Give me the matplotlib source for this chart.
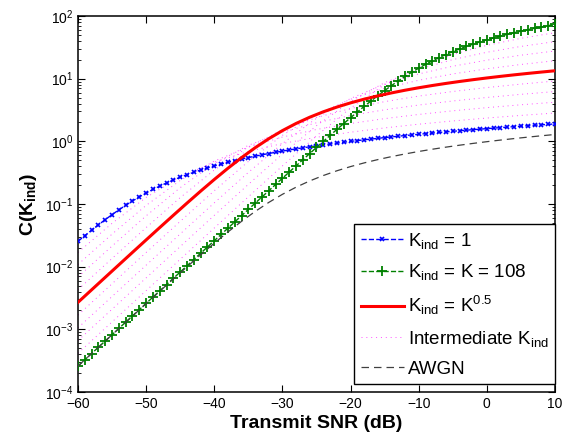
import numpy as np
import matplotlib
matplotlib.use("Agg")
import matplotlib.pyplot as plt


plt.rcParams['font.family'] = ['Liberation Sans', 'DejaVu Sans']
plt.rcParams['mathtext.fontset'] = 'custom'
plt.rcParams['mathtext.rm'] = 'Liberation Sans'
plt.rcParams['mathtext.it'] = 'Liberation Sans:italic'
plt.rcParams['mathtext.bf'] = 'Liberation Sans:bold'

# SNR grids (dB)
snr_fine = np.arange(-60, 11, 1)      # blue / green (markers every dB)
snr_mid = np.arange(-60, 11, 2)       # red / AWGN
snr_coarse = np.arange(-60, 11, 5)    # intermediate K_ind curves

# K_ind = 1
cap_k1 = [0.0254, 0.0312, 0.0382, 0.0465, 0.0563, 0.0676, 0.0806, 0.0953, 0.1117, 0.1298,
          0.1494, 0.1706, 0.1930, 0.2168, 0.2417, 0.2672, 0.2937, 0.3208, 0.3484, 0.3765,
          0.4048, 0.4335, 0.4624, 0.4917, 0.5210, 0.5504, 0.5799, 0.6095, 0.6391, 0.6688,
          0.6986, 0.7284, 0.7582, 0.7880, 0.8179, 0.8478, 0.8777, 0.9076, 0.9374, 0.9673,
          0.9972, 1.027, 1.057, 1.087, 1.117, 1.147, 1.177, 1.207, 1.236, 1.266,
          1.296, 1.326, 1.356, 1.386, 1.416, 1.446, 1.476, 1.506, 1.535, 1.565,
          1.595, 1.625, 1.655, 1.685, 1.715, 1.745, 1.775, 1.805, 1.834, 1.864, 1.894]

# K_ind = K = 108
cap_k108 = [2.597e-4, 3.269e-4, 4.116e-4, 5.182e-4, 6.523e-4, 8.212e-4, 1.034e-3, 1.302e-3, 1.639e-3, 2.063e-3,
            2.597e-3, 3.269e-3, 4.115e-3, 5.180e-3, 6.521e-3, 8.208e-3, 1.033e-2, 1.301e-2, 1.637e-2, 2.061e-2,
            2.595e-2, 3.266e-2, 4.110e-2, 5.172e-2, 6.508e-2, 8.188e-2, 0.1030, 0.1296, 0.1629, 0.2048,
            0.2573, 0.3232, 0.4057, 0.5088, 0.6376, 0.7981, 0.9975, 1.245, 1.550, 1.925,
            2.381, 2.939, 3.609, 4.410, 5.356, 6.465, 7.745, 9.207, 10.85, 12.69,
            14.70, 16.88, 19.21, 21.69, 24.29, 27.00, 29.80, 32.68, 35.62, 38.62,
            41.67, 44.75, 47.86, 50.99, 54.15, 57.31, 60.49, 63.68, 66.88, 70.09, 73.30]

# K_ind = K^0.5
cap_ksqrt = [0.002696, 0.004270, 0.006762, 0.01070, 0.01692, 0.02672, 0.04211, 0.06614, 0.1034, 0.1604,
             0.2460, 0.3715, 0.5493, 0.7903, 1.101, 1.482, 1.927, 2.423, 2.959, 3.524,
             4.108, 4.706, 5.312, 5.923, 6.539, 7.156, 7.775, 8.395, 9.015, 9.636,
             10.26, 10.88, 11.50, 12.12, 12.74, 13.36]

# AWGN
cap_awgn = [2.594e-4, 4.109e-4, 6.507e-4, 1.030e-3, 1.628e-3, 2.571e-3, 4.052e-3, 6.364e-3, 9.947e-3, 0.01543,
            0.02367, 0.03575, 0.05285, 0.07605, 0.1060, 0.1427, 0.1854, 0.2332, 0.2847, 0.3391,
            0.3953, 0.4528, 0.5111, 0.5700, 0.6292, 0.6886, 0.7481, 0.8078, 0.8675, 0.9272,
            0.9870, 1.047, 1.107, 1.166, 1.226, 1.286]

# intermediate K_ind = K^0.1 ... K^0.9 (without 0.5)
cap_int = [
    [0.01686, 0.04920, 0.1272, 0.2701, 0.4662, 0.6894, 0.9229, 1.160, 1.398, 1.637, 1.876, 2.114, 2.353, 2.592, 2.830],
    [0.01082, 0.03307, 0.09494, 0.2377, 0.4846, 0.8089, 1.170, 1.545, 1.924, 2.304, 2.685, 3.067, 3.448, 3.829, 4.211],
    [0.006840, 0.02133, 0.06472, 0.1823, 0.4409, 0.8634, 1.396, 1.979, 2.579, 3.185, 3.794, 4.402, 5.011, 5.620, 6.229],
    [0.004300, 0.01352, 0.04204, 0.1264, 0.3483, 0.8116, 1.528, 2.400, 3.338, 4.300, 5.269, 6.240, 7.213, 8.185, 9.158],
    [0.001689, 0.005337, 0.01683, 0.05278, 0.1627, 0.4773, 1.248, 2.687, 4.697, 7.004, 9.427, 11.89, 14.36, 16.84, 19.32],
    [0.001058, 0.003344, 0.01056, 0.03330, 0.1042, 0.3193, 0.9226, 2.337, 4.835, 8.165, 11.90, 15.79, 19.73, 23.68, 27.64],
    [0.0006626, 0.002095, 0.006622, 0.02091, 0.06586, 0.2056, 0.6256, 1.775, 4.347, 8.635, 14.12, 20.15, 26.38, 32.68, 39.00],
    [0.0004148, 0.001312, 0.004147, 0.01311, 0.04138, 0.1302, 0.4053, 1.222, 3.397, 8.023, 15.32, 24.31, 34.03, 44.02, 54.08],
]

# Plot
fig = plt.figure(figsize=(5.63, 4.38), dpi=100)
ax = fig.add_axes([0.1385, 0.105, 0.8473, 0.8585])

ax.semilogy(snr_fine, cap_k1, linestyle='--', color='#0000ff', lw=1.0,
            marker='x', markersize=3.5, markeredgewidth=1.2, label=r'K$_{\mathrm{ind}}$ = 1', zorder=3)
ax.semilogy(snr_fine, cap_k108, linestyle='--', color='#008000', lw=1.0,
            marker='+', markersize=7.5, markeredgewidth=1.3, label=r'K$_{\mathrm{ind}}$ = K = 108', zorder=4)
ax.semilogy(snr_mid, cap_ksqrt, linestyle='-', color='#ff0000', lw=2.2,
            label=r'K$_{\mathrm{ind}}$ = K$^{0.5}$', zorder=5)
for i, vals in enumerate(cap_int):
    ax.semilogy(snr_coarse, vals, linestyle=(0, (1, 4)), color='#ff00ff', lw=0.7, alpha=0.7,
                label='Intermediate K$_{\mathrm{ind}}$' if i == 0 else None, zorder=2)
ax.semilogy(snr_mid, cap_awgn, linestyle=(0, (6, 4)), color='#404040', lw=0.9,
            label='AWGN', zorder=6)

ax.set_xlim(-60, 10)
ax.set_ylim(1e-4, 1e2)
ax.set_xticks([-60, -50, -40, -30, -20, -10, 0, 10])

ax.set_xlabel('Transmit SNR (dB)', fontsize=14, fontweight='bold', labelpad=3)
ax.set_ylabel(r'$\mathbf{C(K_{ind})}$', fontsize=14, labelpad=4)

ax.tick_params(which='both', direction='in', top=True, right=True, labelsize=10)
ax.tick_params(which='major', length=5, width=0.8)
ax.tick_params(which='minor', length=2.5, width=0.6)
for s in ax.spines.values():
    s.set_linewidth(1.1)

leg = ax.legend(loc='lower right', bbox_to_anchor=(1.0, 0.021), borderaxespad=0, fontsize=13.5,
                handlelength=2.3, handletextpad=0.2, borderpad=0.35, labelspacing=0.62,
                fancybox=False, framealpha=1, edgecolor='black', numpoints=1)
leg.get_frame().set_linewidth(1.0)

plt.savefig('out.png', dpi=100)
